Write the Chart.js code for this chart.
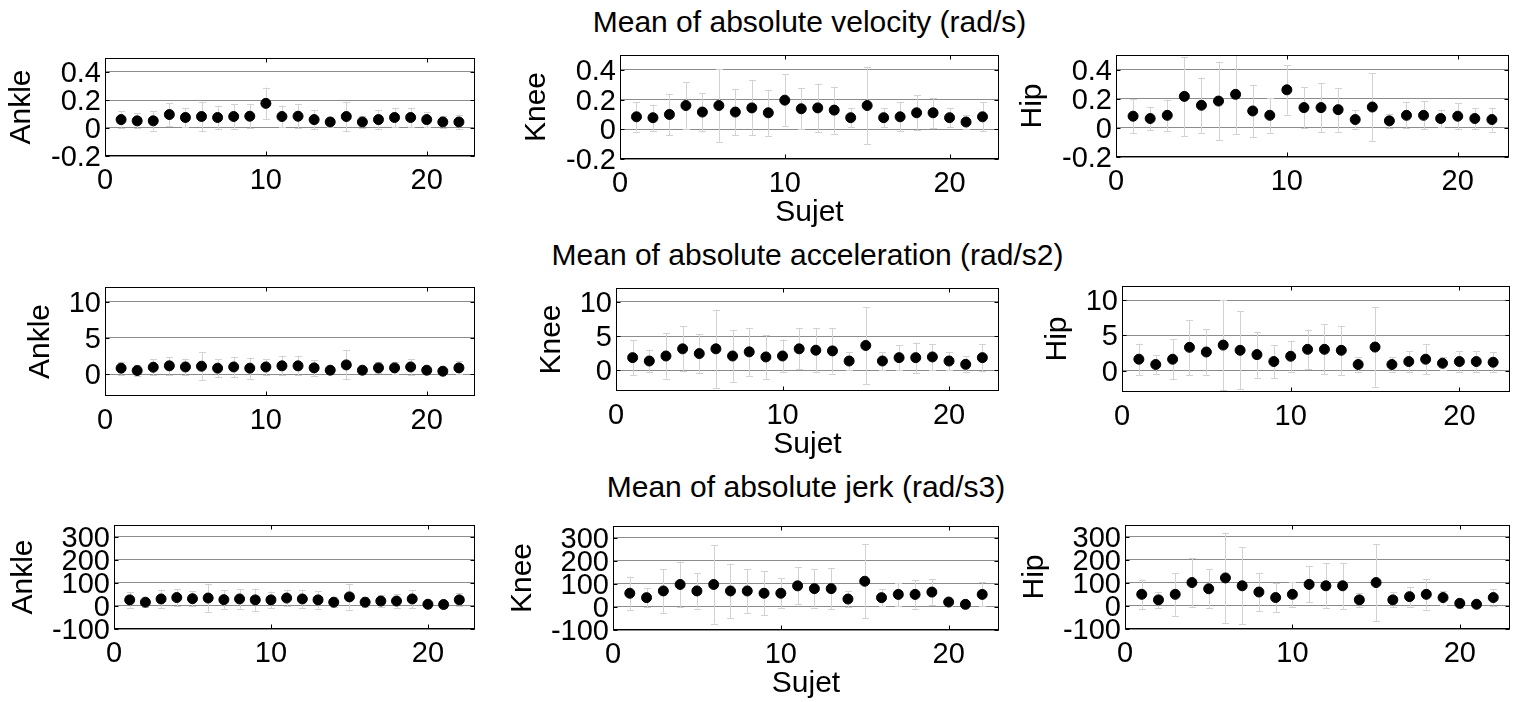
<!DOCTYPE html>
<html>
<head>
<meta charset="utf-8">
<script src="https://cdn.jsdelivr.net/npm/chart.js@4.4.1/dist/chart.umd.min.js"></script>
<style>
html,body{margin:0;padding:0;background:#fff;width:1518px;height:702px;overflow:hidden;position:relative;font-family:"Liberation Sans",Arial,sans-serif}
canvas{position:absolute;display:block}
.ttl{position:absolute;font-size:30px;line-height:30px;white-space:nowrap;transform:translateX(-50%);color:#000;font-family:"Liberation Sans",Arial,sans-serif}
</style>
</head>
<body>
<script>
// ---------------- DATA ----------------
const subjects = [1,2,3,4,5,6,7,8,9,10,11,12,13,14,15,16,17,18,19,20,21,22];
const xTickValues = [0, 10, 20];
const xTickLabels = ['0', '10', '20'];

const rowTitles = ['Mean of absolute velocity (rad/s)', 'Mean of absolute acceleration (rad/s2)', 'Mean of absolute jerk (rad/s3)'];
const jointNames = ['Ankle', 'Knee', 'Hip'];
const xAxisTitle = 'Sujet';

const velTickValues = [-0.2, 0, 0.2, 0.4];
const velTickLabels = ['-0.2', '0', '0.2', '0.4'];
const accTickValues = [0, 5, 10];
const accTickLabels = ['0', '5', '10'];
const jerkTickValues = [-100, 0, 100, 200, 300];
const jerkTickLabels = ['-100', '0', '100', '200', '300'];

const velRange = [-0.2, 0.5];
const accRange = [-3, 12];
const jerkRange = [-100, 350];
const xRange = [0, 23];

// velocity (rad/s)
const velAnkleMean = [0.060,0.051,0.051,0.096,0.075,0.082,0.075,0.082,0.084,0.176,0.082,0.084,0.060,0.043,0.082,0.043,0.060,0.075,0.075,0.060,0.043,0.043];
const velAnkleSd   = [0.060,0.053,0.069,0.080,0.070,0.105,0.084,0.087,0.085,0.113,0.077,0.085,0.068,0.037,0.105,0.044,0.068,0.070,0.070,0.056,0.044,0.053];
const velKneeMean  = [0.084,0.078,0.100,0.160,0.116,0.160,0.116,0.144,0.111,0.196,0.138,0.144,0.129,0.078,0.160,0.078,0.084,0.111,0.111,0.078,0.049,0.084];
const velKneeSd    = [0.100,0.088,0.138,0.156,0.127,0.244,0.157,0.185,0.155,0.176,0.139,0.163,0.158,0.065,0.260,0.065,0.098,0.118,0.100,0.065,0.045,0.098];
const velHipMean   = [0.080,0.064,0.086,0.216,0.155,0.184,0.230,0.116,0.086,0.261,0.139,0.139,0.125,0.057,0.143,0.048,0.086,0.086,0.064,0.080,0.064,0.057];
const velHipSd     = [0.117,0.080,0.107,0.270,0.190,0.270,0.275,0.180,0.120,0.170,0.140,0.167,0.150,0.063,0.233,0.050,0.090,0.097,0.057,0.090,0.072,0.082];

// acceleration (rad/s2)
const accAnkleMean = [0.83,0.50,0.96,1.15,1.00,1.10,0.83,1.00,0.83,1.00,1.15,1.15,0.87,0.55,1.28,0.55,0.87,0.87,1.00,0.55,0.41,0.87];
const accAnkleSd   = [0.90,0.80,1.10,1.20,1.15,1.90,1.25,1.40,1.45,1.10,1.30,1.30,1.10,0.45,2.00,0.40,0.75,0.87,1.10,0.45,0.35,0.90];
const accKneeMean  = [1.86,1.37,2.10,3.14,2.45,3.14,2.10,2.70,1.96,2.10,3.14,2.94,2.84,1.37,3.63,1.37,1.86,1.86,1.96,1.37,0.88,1.86];
const accKneeSd    = [2.50,1.60,3.30,3.30,2.80,5.70,3.75,3.50,3.20,2.40,3.00,3.20,3.30,1.25,5.60,1.35,1.80,2.20,1.90,1.35,1.15,1.95];
const accHipMean   = [1.64,0.89,1.64,3.32,2.66,3.64,2.90,2.29,1.31,2.06,3.04,3.04,2.90,0.89,3.36,0.89,1.31,1.64,1.07,1.31,1.31,1.21];
const accHipSd     = [2.20,1.30,2.80,3.90,3.20,6.40,5.50,3.25,2.35,2.20,2.80,3.55,3.45,1.05,5.60,1.00,1.50,2.15,0.90,1.50,1.50,1.40];

// jerk (rad/s3)
const jerkAnkleMean = [26,16,30,36,31,34,27,30,26,26,34,30,26,16,39,16,21,21,30,7,6,26];
const jerkAnkleSd   = [33,20,40,37,33,59,40,42,49,36,36,39,38,21,55,21,25,30,39,16,17,28];
const jerkKneeMean  = [59,40,69,97,69,97,69,69,59,59,91,79,79,34,111,40,54,54,64,21,11,54];
const jerkKneeSd    = [72,42,95,99,76,169,117,95,96,64,80,83,88,36,160,36,51,62,57,15,8,52];
const jerkHipMean   = [50,26,50,101,74,121,87,60,36,50,93,87,87,26,101,26,40,50,36,11,7,36];
const jerkHipSd     = [64,34,92,106,85,196,167,83,64,54,78,98,100,31,167,32,43,66,30,20,13,35];

// ---------------- LAYOUT / STYLE ----------------
const FONT = '"Liberation Sans", Arial, sans-serif';
const W = 112, T = 24, R = 8, B = 72;
// plot areas [left, top, right, bottom]
const plotBoxes = [
  [[105,58,475,156],[620,55,999,159],[1116,55,1509,157]],
  [[105,287,475,396],[616,288,999,391],[1122,286,1510,392]],
  [[114,525,475,629],[613,526,999,630],[1125,525,1510,629]]
];
const yTitleOffsets = [83, 64, 90];
const titleBaselines = [32, 265, 497];

const rows = [
  {ticks: velTickValues, labels: velTickLabels, range: velRange,
   means: [velAnkleMean, velKneeMean, velHipMean], sds: [velAnkleSd, velKneeSd, velHipSd]},
  {ticks: accTickValues, labels: accTickLabels, range: accRange,
   means: [accAnkleMean, accKneeMean, accHipMean], sds: [accAnkleSd, accKneeSd, accHipSd]},
  {ticks: jerkTickValues, labels: jerkTickLabels, range: jerkRange,
   means: [jerkAnkleMean, jerkKneeMean, jerkHipMean], sds: [jerkAnkleSd, jerkKneeSd, jerkHipSd]}
];

const errorBarPlugin = {
  id: 'errbars',
  beforeDatasetsDraw(chart) {
    const ctx = chart.ctx, xs = chart.scales.x, ys = chart.scales.y, a = chart.chartArea;
    ctx.save();
    ctx.beginPath(); ctx.rect(a.left, a.top, a.right - a.left, a.bottom - a.top); ctx.clip();
    ctx.strokeStyle = '#d2d2d2'; ctx.lineWidth = 1;
    chart.data.datasets.forEach(ds => {
      ds.data.forEach((p, i) => {
        const sd = ds.sd[i];
        const px = Math.round(xs.getPixelForValue(p.x)) + 0.5;
        const y1 = ys.getPixelForValue(p.y + sd), y2 = ys.getPixelForValue(p.y - sd);
        ctx.beginPath();
        ctx.moveTo(px, y1); ctx.lineTo(px, y2);
        const c1 = Math.round(y1) + 0.5, c2 = Math.round(y2) + 0.5;
        ctx.moveTo(px - 3.5, c1); ctx.lineTo(px + 3.5, c1);
        ctx.moveTo(px - 3.5, c2); ctx.lineTo(px + 3.5, c2);
        ctx.stroke();
      });
    });
    ctx.restore();
  }
};

const framePlugin = {
  id: 'frame',
  afterDraw(chart) {
    const ctx = chart.ctx, a = chart.chartArea, xs = chart.scales.x, ys = chart.scales.y;
    const l = Math.round(a.left) + 0.5, t = Math.round(a.top) + 0.5, r = Math.round(a.right) - 0.5, b = Math.round(a.bottom) - 0.5;
    ctx.save();
    ctx.strokeStyle = '#000'; ctx.lineWidth = 1;
    ctx.strokeRect(l, t, r - l, b - t);
    ctx.beginPath();
    xs.ticks.forEach(tk => {
      const px = Math.round(xs.getPixelForValue(tk.value)) + 0.5;
      ctx.moveTo(px, b); ctx.lineTo(px, b - 4);
      ctx.moveTo(px, t); ctx.lineTo(px, t + 4);
    });
    ys.ticks.forEach(tk => {
      const py = Math.round(ys.getPixelForValue(tk.value)) + 0.5;
      ctx.moveTo(l, py); ctx.lineTo(l + 4, py);
      ctx.moveTo(r, py); ctx.lineTo(r - 4, py);
    });
    ctx.stroke();
    ctx.restore();
  }
};

rows.forEach((row, ri) => {
  const mid = plotBoxes[ri][1];
  const d = document.createElement('div');
  d.className = 'ttl';
  d.textContent = rowTitles[ri];
  d.style.left = ((mid[0] + mid[2]) / 2) + 'px';
  d.style.top = (titleBaselines[ri] - 25.4) + 'px';
  document.body.appendChild(d);

  jointNames.forEach((joint, ci) => {
    const [pl, pt, pr, pb] = plotBoxes[ri][ci];
    const cw = W + (pr - pl) + R, ch = T + (pb - pt) + B;
    const cv = document.createElement('canvas');
    cv.width = cw; cv.height = ch;
    cv.style.left = (pl - W) + 'px'; cv.style.top = (pt - T) + 'px';
    cv.style.width = cw + 'px'; cv.style.height = ch + 'px';
    document.body.appendChild(cv);

    const means = row.means[ci], sds = row.sds[ci];
    new Chart(cv, {
      type: 'scatter',
      data: {
        datasets: [{
          data: subjects.map((s, i) => ({x: s, y: means[i]})),
          sd: sds,
          backgroundColor: '#000', borderColor: '#000',
          pointRadius: 5, borderWidth: 1, pointHoverRadius: 5
        }]
      },
      options: {
        responsive: false, animation: false, events: [],
        devicePixelRatio: 1,
        layout: {padding: {top: T, right: R, left: 0, bottom: 0}},
        plugins: {legend: {display: false}, tooltip: {enabled: false}, title: {display: false}},
        scales: {
          x: {
            type: 'linear', min: xRange[0], max: xRange[1],
            afterBuildTicks: s => { s.ticks = xTickValues.map(v => ({value: v})); },
            afterFit: s => { s.height = B; },
            grid: {display: false, drawTicks: false},
            border: {display: false},
            ticks: {padding: 10, color: '#000', autoSkip: false, maxRotation: 0,
                    font: {family: FONT, size: 29, lineHeight: 1},
                    callback: (v, i) => xTickLabels[i]},
            title: {display: ci === 1, text: xAxisTitle, color: '#000',
                    font: {family: FONT, size: 30, lineHeight: 1}, padding: {top: 0, bottom: 3}}
          },
          y: {
            type: 'linear', min: row.range[0], max: row.range[1],
            afterBuildTicks: s => { s.ticks = row.ticks.map(v => ({value: v})); },
            afterFit: s => { s.width = W; },
            grid: {display: true, drawTicks: false, color: '#8c8c8c', lineWidth: 1},
            border: {display: false},
            ticks: {padding: 4, labelOffset: 2, color: '#000', autoSkip: false,
                    font: {family: FONT, size: 29, lineHeight: 1},
                    callback: (v, i) => row.labels[i]},
            title: {display: true, text: joint, color: '#000',
                    font: {family: FONT, size: 30, lineHeight: 1},
                    padding: {top: W - yTitleOffsets[ri] - 15, bottom: 0}}
          }
        }
      },
      plugins: [errorBarPlugin, framePlugin]
    });
  });
});
</script>
</body>
</html>
